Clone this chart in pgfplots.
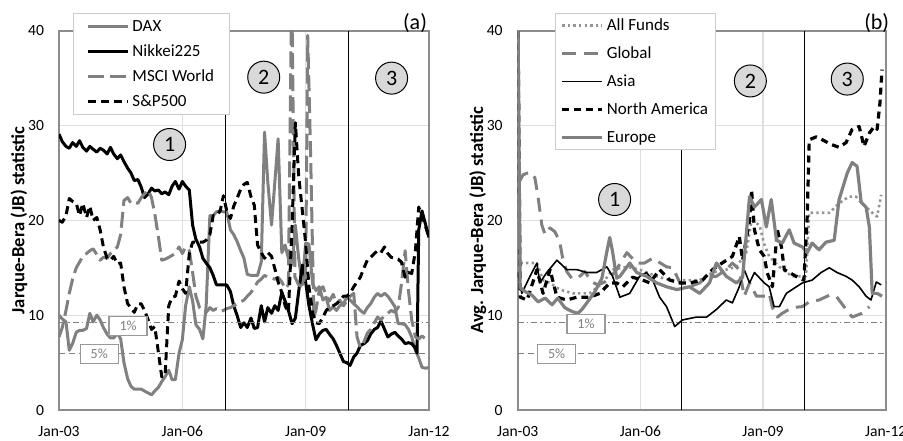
\documentclass[border=0pt]{standalone}
\usepackage{fontspec}
\setmainfont{Carlito}
\usepackage{pgfplots}
\pgfplotsset{compat=1.18}
\definecolor{lg}{gray}{0.5}
\definecolor{lgd}{gray}{0.58}
\tikzset{
  circ/.style={circle, draw=black, fill=gray!30, line width=0.5pt, minimum size=16pt, inner sep=0pt, font=\fontsize{11}{13}\selectfont},
  pct/.style={draw=gray!80, fill=white, text=gray, line width=0.6pt, minimum width=19pt, minimum height=9.5pt, inner sep=0pt, font=\fontsize{7}{8}\selectfont},
}
\pgfplotsset{
  jbaxis/.style={
    scale only axis, height=189.65pt,
    xmin=2003, xmax=2012, ymin=0, ymax=40,
    xtick={2003,2006,2009,2012}, xticklabels={Jan-03,Jan-06,Jan-09,Jan-12},
    ytick={0,10,20,30,40},
    major tick length=0pt,
    grid=major, major grid style={gray!25, line width=0.6pt},
    axis line style={black!45, line width=0.8pt},
    tick label style={font=\fontsize{7.8}{9}\selectfont},
    /pgf/number format/assume math mode=true,
    xticklabel style={yshift=-4.5pt},
    yticklabel style={xshift=-4pt},
    every axis plot/.append style={line join=round},
    legend image code/.code={\draw[##1] (0pt,0pt) -- (20pt,0pt);},
    legend cell align=left,
    every axis y label/.style={at={([xshift=-20pt]axis description cs:0,0.5)}, rotate=90, anchor=center, font=\bfseries\fontsize{9.3}{11}\selectfont},
  },
}
\begin{document}
\begin{tikzpicture}
\path[use as bounding box] (0,0) rectangle (451.5pt,-220pt);
% ---------------- panel (a)
\begin{axis}[jbaxis, width=185pt, at={(29.5pt,-205pt)}, anchor=south west,
  ylabel={Jarque-Bera (JB) statistic},
  legend style={at={(axis description cs:0.037,1.046)}, anchor=north west, draw=gray!40, line width=0.6pt, fill=white,
    font=\fontsize{8.5}{10}\selectfont, row sep=1.5pt, column sep=0.5pt, inner xsep=6.6pt, inner ysep=1pt,
    nodes={inner sep=1pt, text height=7pt, text depth=2pt}},
]
\addplot[lg, line width=1.5pt] coordinates {
(2003.00,10.0)(2003.08,9.6)(2003.17,9.3)(2003.25,6.3)(2003.33,7.0)(2003.42,8.2)(2003.50,8.4)(2003.58,8.4)(2003.67,8.6)(2003.75,10.2)(2003.83,9.3)(2003.92,10.0)
(2004.00,9.5)(2004.08,8.7)(2004.17,8.0)(2004.25,7.6)(2004.33,7.6)(2004.42,8.1)(2004.50,7.5)(2004.58,5.0)(2004.67,3.3)(2004.75,2.5)(2004.83,2.2)(2004.92,2.2)
(2005.00,2.2)(2005.08,2.0)(2005.17,1.8)(2005.25,1.6)(2005.33,2.0)(2005.42,2.4)(2005.50,3.0)(2005.58,3.5)(2005.67,4.2)(2005.75,3.2)(2005.83,3.2)(2005.92,6.0)
(2006.00,7.4)(2006.08,11.0)(2006.17,13.0)(2006.25,11.5)(2006.33,9.0)(2006.42,8.5)(2006.50,7.5)(2006.58,11.0)(2006.67,20.5)(2006.75,20.5)(2006.83,20.9)(2006.92,21.0)
(2007.00,20.9)(2007.08,20.9)(2007.17,19.0)(2007.25,18.5)(2007.33,17.8)(2007.42,16.8)(2007.50,16.0)(2007.58,14.3)(2007.67,14.2)(2007.75,14.2)(2007.83,14.2)(2007.92,15.6)
(2008.00,29.3)(2008.08,24.0)(2008.17,19.5)(2008.25,24.0)(2008.33,28.6)(2008.42,16.6)(2008.50,17.4)(2008.58,16.0)(2008.67,15.3)(2008.75,19.5)(2008.83,16.0)(2008.92,13.2)
(2009.00,17.6)(2009.08,17.5)(2009.17,13.3)(2009.25,12.6)(2009.33,13.0)(2009.42,11.6)(2009.50,11.9)(2009.58,10.5)(2009.67,10.9)(2009.75,10.5)(2009.83,11.0)(2009.92,11.2)
(2010.00,11.9)(2010.08,11.6)(2010.17,11.2)(2010.25,10.9)(2010.33,10.5)(2010.42,10.2)(2010.50,10.8)(2010.58,11.2)(2010.67,11.9)(2010.75,12.3)(2010.83,12.0)(2010.92,12.3)
(2011.00,12.0)(2011.08,11.5)(2011.17,10.9)(2011.25,9.1)(2011.33,9.1)(2011.42,9.0)(2011.50,8.5)(2011.58,7.7)(2011.67,6.3)(2011.75,5.5)(2011.83,4.5)(2011.92,4.4)(2012.00,4.5)
};
\addlegendentry{DAX}
\addplot[black, line width=1.5pt] coordinates {
(2003.00,29.1)(2003.08,28.3)(2003.17,27.8)(2003.25,27.6)(2003.33,28.2)(2003.42,27.8)(2003.50,28.4)(2003.58,27.7)(2003.67,27.3)(2003.75,27.8)(2003.83,27.5)(2003.92,27.2)
(2004.00,27.6)(2004.08,27.4)(2004.17,27.0)(2004.25,27.7)(2004.33,27.0)(2004.42,26.5)(2004.50,26.9)(2004.58,26.2)(2004.67,25.5)(2004.75,25.0)(2004.83,24.2)(2004.92,24.3)
(2005.00,23.5)(2005.08,22.4)(2005.17,22.8)(2005.25,23.4)(2005.33,23.1)(2005.42,23.2)(2005.50,22.8)(2005.58,23.0)(2005.67,22.7)(2005.75,23.6)(2005.83,24.1)(2005.92,23.3)
(2006.00,24.1)(2006.08,23.6)(2006.17,23.2)(2006.25,19.5)(2006.33,18.0)(2006.42,17.2)(2006.50,16.0)(2006.58,15.5)(2006.67,15.0)(2006.75,14.2)(2006.83,13.2)(2006.92,13.2)
(2007.00,13.2)(2007.08,13.2)(2007.17,12.5)(2007.25,11.0)(2007.33,10.0)(2007.42,8.7)(2007.50,9.2)(2007.58,8.7)(2007.67,9.7)(2007.75,8.6)(2007.83,8.7)(2007.92,11.0)
(2008.00,9.3)(2008.08,10.8)(2008.17,10.2)(2008.25,11.0)(2008.33,10.5)(2008.42,12.4)(2008.50,11.5)(2008.58,10.5)(2008.67,9.1)(2008.75,9.7)(2008.83,12.5)(2008.92,15.3)
(2009.00,13.5)(2009.08,11.0)(2009.17,9.0)(2009.25,7.4)(2009.33,8.0)(2009.42,8.4)(2009.50,8.5)(2009.58,8.0)(2009.67,7.5)(2009.75,6.8)(2009.83,6.0)(2009.92,5.1)
(2010.00,5.0)(2010.08,4.7)(2010.17,5.6)(2010.25,6.0)(2010.33,6.8)(2010.42,7.0)(2010.50,7.3)(2010.58,8.0)(2010.67,8.5)(2010.75,8.7)(2010.83,9.4)(2010.92,8.5)
(2011.00,7.7)(2011.08,8.0)(2011.17,8.2)(2011.25,7.8)(2011.33,7.5)(2011.42,7.0)(2011.50,7.1)(2011.58,7.0)(2011.67,6.5)(2011.71,6.0)(2011.75,19.0)(2011.83,21.0)(2011.92,19.5)(2012.00,18.2)
};
\addlegendentry{Nikkei225}
\addplot[lg, line width=1.5pt, dash pattern=on 8pt off 3pt] coordinates {
(2003.00,7.7)(2003.08,8.7)(2003.17,10.5)(2003.25,12.3)(2003.33,13.8)(2003.42,15.0)(2003.50,15.6)(2003.58,16.2)(2003.67,16.5)(2003.75,16.8)(2003.83,17.0)(2003.92,16.4)
(2004.00,15.8)(2004.08,16.1)(2004.17,16.0)(2004.25,16.5)(2004.33,16.8)(2004.42,17.2)(2004.50,18.5)(2004.58,22.1)(2004.67,22.4)(2004.75,21.8)(2004.83,21.9)(2004.92,21.8)
(2005.00,22.4)(2005.08,22.8)(2005.17,23.2)(2005.25,22.4)(2005.33,20.7)(2005.42,18.2)(2005.50,15.8)(2005.58,15.9)(2005.67,16.1)(2005.75,16.3)(2005.83,16.5)(2005.92,17.2)
(2006.00,16.5)(2006.08,17.2)(2006.17,16.8)(2006.25,14.5)(2006.33,12.0)(2006.42,10.8)(2006.50,10.5)(2006.58,10.3)(2006.67,10.8)(2006.75,10.5)(2006.83,10.7)(2006.92,10.4)
(2007.00,10.5)(2007.08,10.7)(2007.17,10.8)(2007.25,11.0)(2007.33,11.2)(2007.42,11.4)(2007.50,11.6)(2007.58,12.0)(2007.67,12.4)(2007.75,12.9)(2007.83,13.5)(2007.92,13.8)
(2008.00,14.2)(2008.08,14.0)(2008.17,13.9)(2008.25,13.8)(2008.33,14.0)(2008.42,13.5)(2008.50,12.8)(2008.58,13.2)(2008.66,45)(2008.74,14.0)(2008.83,13.2)(2008.92,13.0)
(2009.00,14.5)(2009.05,39.5)(2009.12,27.0)(2009.20,9.8)(2009.25,10.5)(2009.33,12.6)(2009.42,13.0)(2009.50,12.0)(2009.58,11.5)(2009.67,12.2)(2009.75,11.2)(2009.83,11.6)(2009.92,11.0)
(2010.00,11.5)(2010.08,12.0)(2010.17,12.3)(2010.25,7.7)(2010.33,6.6)(2010.42,7.2)(2010.50,8.1)(2010.58,8.5)(2010.67,9.2)(2010.75,9.8)(2010.83,9.5)(2010.92,10.0)
(2011.00,10.2)(2011.08,10.5)(2011.17,10.3)(2011.25,10.8)(2011.33,13.3)(2011.42,16.8)(2011.50,12.6)(2011.58,9.5)(2011.67,7.7)(2011.75,7.5)(2011.83,7.8)(2011.92,7.5)(2012.00,7.5)
};
\addlegendentry{MSCI World}
\addplot[black, line width=1.5pt, dash pattern=on 4pt off 2.5pt] coordinates {
(2003.00,20.0)(2003.08,19.8)(2003.17,20.5)(2003.25,22.3)(2003.33,22.0)(2003.42,21.8)(2003.50,20.5)(2003.58,21.8)(2003.67,20.3)(2003.75,21.5)(2003.83,20.0)(2003.92,20.3)
(2004.00,19.0)(2004.08,17.2)(2004.17,16.0)(2004.25,15.8)(2004.33,16.2)(2004.42,15.4)(2004.50,15.5)(2004.58,13.0)(2004.67,11.2)(2004.75,10.8)(2004.83,10.3)(2004.92,11.2)
(2005.00,11.2)(2005.08,10.5)(2005.17,9.5)(2005.25,8.5)(2005.33,8.8)(2005.42,6.0)(2005.50,3.5)(2005.58,3.6)(2005.67,11.0)(2005.75,11.9)(2005.83,12.0)(2005.92,13.6)
(2006.00,12.8)(2006.08,12.3)(2006.17,16.5)(2006.25,17.7)(2006.33,17.7)(2006.42,17.7)(2006.50,17.7)(2006.58,17.9)(2006.67,18.5)(2006.75,20.5)(2006.83,20.5)(2006.92,21.0)
(2007.00,22.6)(2007.08,21.0)(2007.17,20.2)(2007.25,21.5)(2007.33,22.3)(2007.42,23.3)(2007.50,23.8)(2007.58,24.0)(2007.67,22.5)(2007.75,21.6)(2007.83,17.4)(2007.92,16.6)
(2008.00,16.0)(2008.08,16.6)(2008.17,16.2)(2008.25,14.9)(2008.33,13.5)(2008.42,12.4)(2008.50,11.0)(2008.58,10.3)(2008.67,19.5)(2008.75,30.3)(2008.83,24.7)(2008.92,21.0)
(2009.00,17.6)(2009.08,13.0)(2009.17,10.2)(2009.25,9.2)(2009.33,9.1)(2009.42,9.8)(2009.50,10.5)(2009.58,10.8)(2009.67,11.0)(2009.75,11.2)(2009.83,11.5)(2009.92,12.0)
(2010.00,12.0)(2010.08,12.3)(2010.17,13.0)(2010.25,13.5)(2010.33,14.0)(2010.42,15.0)(2010.50,15.8)(2010.58,16.1)(2010.67,16.5)(2010.75,16.8)(2010.83,16.6)(2010.92,17.2)
(2011.00,16.5)(2011.08,16.1)(2011.17,16.0)(2011.25,15.9)(2011.33,15.6)(2011.42,14.0)(2011.50,14.5)(2011.58,14.4)(2011.67,16.8)(2011.75,21.4)(2011.83,20.5)(2011.92,19.3)(2012.00,18.2)
};
\addlegendentry{S\&P500}
\addplot[forget plot, gray, line width=0.5pt, dash pattern=on 3pt off 1.5pt on 0.8pt off 1.5pt] coordinates {(2003,9.2)(2012,9.2)};
\addplot[forget plot, gray, line width=0.5pt, dash pattern=on 3pt off 2pt] coordinates {(2003,6.0)(2012,6.0)};
\addplot[forget plot, black, line width=0.6pt] coordinates {(2007.05,0)(2007.05,40)};
\addplot[forget plot, black, line width=0.6pt] coordinates {(2010.05,0)(2010.05,40)};
\node[pct] at (axis cs:2004.68,8.85) {1\%};
\node[pct] at (axis cs:2003.98,5.93) {5\%};
\node[circ] at (axis cs:2005.69,28.0) {1};
\node[circ] at (axis cs:2007.98,35.1) {2};
\node[circ] at (axis cs:2011.09,35.0) {3};
\end{axis}
% ---------------- panel (b)
\begin{axis}[jbaxis, width=184pt, at={(258.85pt,-205pt)}, anchor=south west,
  ylabel={Avg. Jarque-Bera (JB) statistic},
  legend style={at={(axis description cs:0.101,1.047)}, anchor=north west, draw=gray!40, line width=0.6pt, fill=white,
    font=\fontsize{8.5}{10}\selectfont, row sep=3pt, column sep=0.5pt, inner xsep=2.6pt, inner ysep=0.5pt,
    nodes={inner sep=1pt, text height=7pt, text depth=2pt}},
]
\addplot[lgd, line width=1.3pt, dash pattern=on 1.2pt off 1.6pt] coordinates {
(2003.00,45)(2003.06,15.5)(2003.23,15.5)(2003.47,15.5)(2003.62,13.7)(2003.79,13.4)(2004.03,12.7)(2004.35,12.3)(2004.76,12.3)(2005.08,13.4)(2005.32,14.8)(2005.67,15.1)
(2005.98,14.8)(2006.40,14.1)(2006.72,13.7)(2007.03,13.7)(2007.45,13.7)(2007.76,14.5)(2008.10,14.8)(2008.35,15.1)(2008.59,16.6)(2008.72,20.0)(2008.91,19.5)(2009.03,17.5)
(2009.15,16.2)(2009.40,15.1)(2009.71,14.1)(2010.05,14.1)(2010.13,20.8)(2010.37,20.8)(2010.62,20.8)(2010.86,21.8)(2011.10,22.5)(2011.27,22.5)(2011.42,21.8)(2011.67,20.8)(2011.79,20.4)(2011.89,22.7)
};
\addlegendentry{All Funds}
\addplot[lg, line width=1.5pt, dash pattern=on 7pt off 4pt] coordinates {
(2003.03,24.0)(2003.13,24.8)(2003.30,25.1)(2003.42,24.5)(2003.50,22.4)(2003.59,19.5)(2003.67,18.5)(2003.79,19.2)(2003.91,18.8)(2004.03,17.7)(2004.10,16.0)(2004.20,14.6)
(2004.32,13.9)(2004.47,13.9)(2004.64,14.6)(2004.81,13.5)(2004.96,13.2)(2005.13,13.5)(2005.37,14.5)(2005.67,16.6)(2005.91,15.5)(2006.10,15.5)(2006.30,16.0)(2006.64,15.1)
(2006.79,15.0)(2006.96,13.5)(2007.20,13.0)(2007.45,13.4)(2007.62,14.1)(2007.86,14.1)(2008.10,14.8)(2008.25,15.5)(2008.42,14.8)(2008.54,12.0)(2008.67,13.4)(2008.84,12.0)
(2009.08,12.0)(2009.15,12.3)(2009.23,10.8)(2009.35,9.8)(2009.47,10.2)(2009.71,10.8)(2009.96,10.9)(2010.13,11.4)(2010.37,11.6)(2010.62,12.1)(2010.79,12.0)(2010.98,10.9)
(2011.18,9.8)(2011.42,10.2)(2011.60,10.9)
};
\addlegendentry{Global}
\addplot[black, line width=0.8pt] coordinates {
(2003.00,14.5)(2003.10,12.3)(2003.30,14.1)(2003.47,15.5)(2003.54,13.4)(2003.71,14.5)(2003.96,15.8)(2004.20,14.8)(2004.45,14.8)(2004.69,14.5)(2004.93,14.5)(2005.18,15.1)
(2005.32,14.1)(2005.50,11.9)(2005.74,12.3)(2005.98,14.1)(2006.15,14.5)(2006.30,13.7)(2006.47,11.9)(2006.64,10.9)(2006.84,8.8)(2007.03,9.5)(2007.37,9.8)(2007.62,9.8)
(2007.86,10.6)(2008.10,11.6)(2008.25,11.3)(2008.42,13.0)(2008.54,14.8)(2008.67,13.4)(2008.79,14.5)(2009.03,13.4)(2009.15,13.0)(2009.27,10.9)(2009.40,10.9)(2009.57,12.3)
(2009.71,12.7)(2009.96,13.4)(2010.20,13.7)(2010.42,14.5)(2010.62,15.0)(2010.81,14.5)(2011.03,14.1)(2011.18,13.7)(2011.35,13.0)(2011.52,12.0)(2011.64,11.6)(2011.77,13.5)(2011.89,13.2)
};
\addlegendentry{Asia}
\addplot[black, line width=1.6pt, dash pattern=on 3.5pt off 2.5pt] coordinates {
(2003.00,45)(2003.06,11.9)(2003.23,11.6)(2003.47,14.8)(2003.62,12.3)(2003.79,14.8)(2003.96,11.9)(2004.20,11.6)(2004.45,11.9)(2004.76,11.9)(2005.01,12.3)(2005.25,13.4)
(2005.42,13.4)(2005.57,13.0)(2005.81,14.0)(2006.06,13.7)(2006.23,13.4)(2006.47,14.8)(2006.72,13.7)(2006.96,13.4)(2007.20,13.4)(2007.52,13.7)(2007.76,14.8)(2008.00,15.5)
(2008.25,16.2)(2008.42,18.3)(2008.50,15.8)(2008.67,20.0)(2008.72,23.2)(2008.79,19.0)(2008.91,16.9)(2009.03,16.2)(2009.10,14.5)(2009.23,13.0)(2009.35,19.0)(2009.45,17.2)
(2009.52,14.8)(2009.64,14.5)(2009.81,14.1)(2010.00,13.7)(2010.08,20.4)(2010.13,28.5)(2010.30,28.8)(2010.45,28.5)(2010.67,28.0)(2010.86,27.7)(2011.03,28.2)(2011.18,29.6)
(2011.35,29.9)(2011.47,27.8)(2011.60,29.2)(2011.72,29.9)(2011.79,29.6)(2011.86,32.4)(2011.91,35.9)
};
\addlegendentry{North America}
\addplot[lg, line width=1.6pt] coordinates {
(2003.00,45)(2003.06,12.9)(2003.18,12.5)(2003.35,12.1)(2003.50,11.4)(2003.67,11.8)(2003.84,11.1)(2003.98,11.8)(2004.15,10.8)(2004.32,10.4)(2004.47,10.2)(2004.57,10.6)
(2004.71,11.4)(2004.89,12.5)(2005.06,13.9)(2005.18,16.7)(2005.25,18.2)(2005.32,16.7)(2005.42,13.9)(2005.50,14.1)(2005.74,15.5)(2005.91,14.5)(2006.15,14.1)(2006.40,13.4)
(2006.64,13.0)(2006.89,12.7)(2007.20,13.0)(2007.45,12.3)(2007.69,13.4)(2007.86,15.5)(2008.10,14.1)(2008.35,13.4)(2008.50,14.0)(2008.67,22.5)(2008.79,21.4)(2008.96,22.2)
(2009.08,19.3)(2009.20,22.2)(2009.33,17.9)(2009.47,17.6)(2009.64,19.0)(2009.76,17.6)(2009.96,17.2)(2010.08,16.6)(2010.20,17.6)(2010.37,16.9)(2010.54,17.7)(2010.74,17.9)
(2010.86,22.2)(2011.06,25.0)(2011.18,26.1)(2011.30,25.7)(2011.40,21.9)(2011.52,21.4)(2011.60,19.3)(2011.67,12.3)(2011.79,12.3)(2011.91,12.0)
};
\addlegendentry{Europe}
\addplot[forget plot, gray, line width=0.5pt, dash pattern=on 3pt off 1.5pt on 0.8pt off 1.5pt] coordinates {(2003,9.2)(2012,9.2)};
\addplot[forget plot, gray, line width=0.5pt, dash pattern=on 3pt off 2pt] coordinates {(2003,6.0)(2012,6.0)};
\addplot[forget plot, black, line width=0.6pt] coordinates {(2007.01,0)(2007.01,40)};
\addplot[forget plot, black, line width=0.6pt] coordinates {(2010.01,0)(2010.01,40)};
\node[pct] at (axis cs:2004.67,9.05) {1\%};
\node[pct] at (axis cs:2003.95,5.88) {5\%};
\node[circ] at (axis cs:2005.37,22.2) {1};
\node[circ] at (axis cs:2008.69,34.7) {2};
\node[circ] at (axis cs:2011.06,34.9) {3};
\end{axis}
\node[font=\fontsize{11}{13}\selectfont] at (207.5pt,-11.5pt) {(a)};
\node[font=\fontsize{11}{13}\selectfont] at (438.35pt,-11.5pt) {(b)};
\end{tikzpicture}
\end{document}
